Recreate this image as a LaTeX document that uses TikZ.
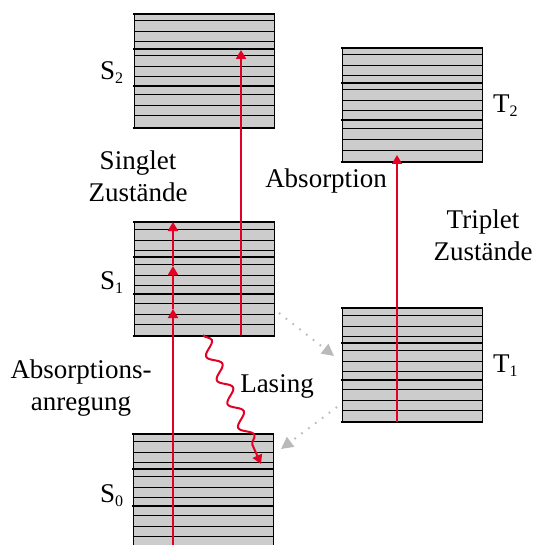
\documentclass[tikz,border=0pt]{standalone}
\usepackage{fontspec}
\setmainfont{Liberation Serif}
\usetikzlibrary{arrows.meta,decorations.pathmorphing}
\definecolor{laserred}{RGB}{226,0,36}
\definecolor{boxgray}{RGB}{204,204,204}
\definecolor{dotgray}{RGB}{185,185,185}
\newcommand\sub[1]{\raisebox{-4bp}{\fontsize{16bp}{16bp}\selectfont #1}}
\newcommand\mklevels[3]{%
  \node[levelbox] (#1) at (#2,#3) {};
  \foreach \o in {7,18,28,42,53,63,81,92,102}{%
    \draw[thinlvl] ([yshift=-\o bp]#1.north west) -- ([yshift=-\o bp]#1.north east);}
  \foreach \o in {0,35,72,114}{%
    \draw[thicklvl] ([yshift=-\o bp]#1.north west) -- ([yshift=-\o bp]#1.north east);}
}
\tikzset{
  levelbox/.style={draw=black, line width=0.9bp, fill=boxgray, minimum width=140bp,
    minimum height=114bp, inner sep=0pt, outer sep=0pt, anchor=north west},
  thinlvl/.style={draw=black, line width=1bp},
  thicklvl/.style={draw=black, line width=2.4bp, line cap=rect},
  redarrow/.style={draw=laserred, line width=2bp, -{Triangle[length=9bp,width=10bp]}},
  redline/.style={draw=laserred, line width=2bp},
  wavy/.style={draw=laserred, line width=2bp, -{Triangle[length=9bp,width=10bp]},
    decorate, decoration={snake, segment length=26bp, amplitude=6bp, post length=10bp}},
  dotarrow/.style={draw=dotgray, line width=2bp, dash pattern=on 1.6bp off 7bp,
    -{Triangle[length=12bp,width=12bp,fill=dotgray]}},
  lbl/.style={font=\fontsize{27bp}{32bp}\selectfont, inner sep=0pt, anchor=base},
  lblw/.style={font=\fontsize{27bp}{32bp}\selectfont, inner sep=0pt, anchor=base west}
}
\begin{document}
\begin{tikzpicture}[x=1bp, y=-1bp]
\useasboundingbox (0,0) rectangle (536,545);
\begin{scope}
\clip (0,0) rectangle (536,545);
% energy level boxes
\mklevels{S2}{134}{14}
\mklevels{S1}{134}{222}
\mklevels{S0}{133}{434}
\mklevels{T2}{342}{48}
\mklevels{T1}{342}{308}
% coordinates for arrows
\coordinate (p0) at (173,550);
\coordinate (p1) at (173,309);
\coordinate (p2) at (173,266);
\coordinate (p3) at (173,222);
\coordinate (q0) at (241,335);
\coordinate (q1) at (241,50);
\coordinate (r0) at (397,422);
\coordinate (r1) at (397,155);
\coordinate (w0) at (203,335);
\coordinate (w1) at (261,464);
\coordinate (d0) at (279,313);
\coordinate (d1) at (334,356);
\coordinate (e0) at (337,407);
\coordinate (e1) at (281,449);
% absorption arrows
\draw[redarrow] (p0) -- (p1);
\draw[redarrow] (p1) -- (p2);
\draw[redarrow] (p2) -- (p3);
\draw[redarrow] (q0) -- (q1);
\draw[redarrow] (r0) -- (r1);
% lasing
\draw[wavy] (w0) -- (w1);
% intersystem crossing
\draw[dotarrow] (d0) -- (d1);
\draw[dotarrow] (e0) -- (e1);
\end{scope}
% labels
\node[lblw] (ls2) at (100,80) {S\sub{2}};
\node[lblw] (ls1) at (100,289) {S\sub{1}};
\node[lblw] (ls0) at (100,502) {S\sub{0}};
\node[lblw] (lt2) at (493,113) {T\sub{2}};
\node[lblw] (lt1) at (493,372) {T\sub{1}};
\node[lbl] (lsing) at (138,170) {\begin{tabular}[t]{@{}c@{}}Singlet\\Zustände\end{tabular}};
\node[lbl] (ltrip) at (483,228) {\begin{tabular}[t]{@{}c@{}}Triplet\\Zustände\end{tabular}};
\node[lbl] (labs) at (81,378) {\begin{tabular}[t]{@{}c@{}}Absorptions-\\anregung\end{tabular}};
\node[lbl] (labs2) at (326,188) {Absorption};
\node[lbl] (llas) at (277,392) {Lasing};
\end{tikzpicture}
\end{document}
